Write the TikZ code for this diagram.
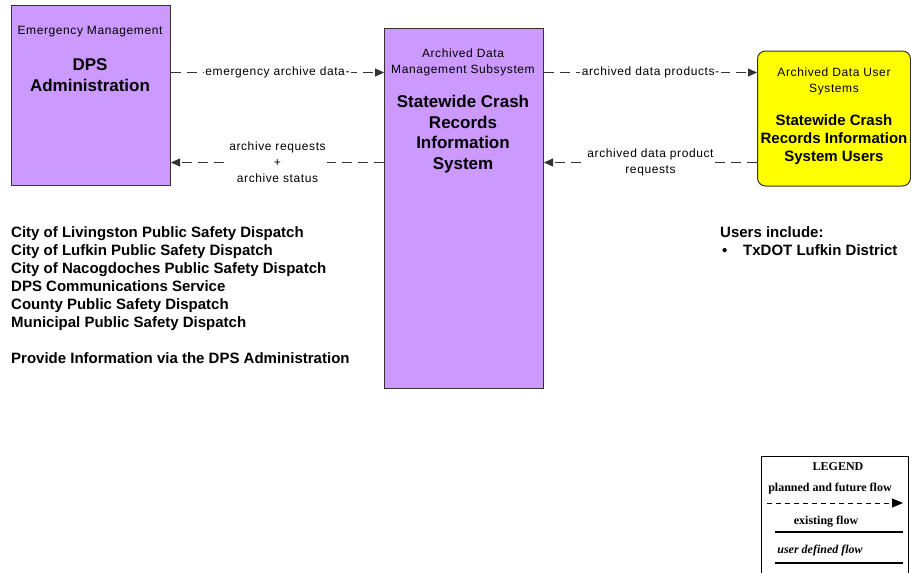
\documentclass[tikz,border=0pt]{standalone}
\usepackage{fontspec}
\setmainfont{Liberation Sans}
\newfontfamily\smf[LetterSpace=5]{Liberation Sans}
\newfontfamily\serf{Liberation Serif}
\usetikzlibrary{arrows.meta}
\definecolor{boxpurple}{HTML}{CC99FF}
\definecolor{boxyellow}{HTML}{FFFF00}
\definecolor{lineg}{HTML}{333333}
\tikzset{
  sysbox/.style={draw=lineg, line width=1pt, fill=boxpurple, anchor=north west, inner sep=0pt},
  usrbox/.style={draw=lineg, line width=1pt, fill=boxyellow, rounded corners=8pt, anchor=north west, inner sep=0pt},
  flow/.style={draw=lineg, line width=1pt, dash pattern=on 10pt off 6pt, -{Triangle[length=9pt,width=8pt]}},
  lab/.style={fill=white, inner sep=1.5pt, align=center, font=\smf\fontsize{12}{16}\selectfont},
  smalltxt/.style={align=center, inner sep=0pt, font=\smf\fontsize{12}{16}\selectfont},
  bigtxt/.style={align=center, inner sep=0pt, font=\bfseries\fontsize{17}{21}\selectfont},
  listtxt/.style={align=left, inner sep=0pt, anchor=north west, font=\bfseries\fontsize{15}{18}\selectfont},
  legtxt/.style={inner sep=0pt, font=\serf\bfseries\fontsize{12}{14}\selectfont},
  legline/.style={draw=black, line width=1.3pt}
}
\begin{document}
\begin{tikzpicture}[x=1pt,y=-1pt]
\useasboundingbox (0,0) rectangle (911,573);
\clip (0,0) rectangle (911,573);

% boxes
\node[sysbox, minimum width=159pt, minimum height=180pt] (dps) at (11,5) {};
\node[sysbox, minimum width=159pt, minimum height=360pt] (crs) at (384,28) {};
\node[usrbox, minimum width=153pt, minimum height=135pt] (usr) at (757,50.5) {};

% box texts
\node[smalltxt] (dpsc) at (90,32) {Emergency Management};
\node[bigtxt] (dpst) at (90,75) {DPS\\Administration};
\node[smalltxt] (crsc) at (463,62) {Archived Data\\Management Subsystem};
\node[bigtxt, font=\bfseries\fontsize{17}{20.5}\selectfont] (crst) at (463,134) {Statewide Crash\\Records\\Information\\System};
\node[smalltxt] (usrc) at (834,81) {Archived Data User\\Systems};
\node[bigtxt, font=\bfseries\fontsize{15}{18}\selectfont] (usrt) at (834,140) {Statewide Crash\\Records Information\\System Users};

% flows
\draw[flow] (dps.east |- 0,72.5) -- (crs.west |- 0,72.5) node[lab, midway] (f1) {emergency archive data-};
\draw[flow] (crs.west |- 0,162.5) -- (dps.east |- 0,162.5) node[lab, midway] (f2) {archive requests\\+\\archive status};
\draw[flow] (crs.east |- 0,72.5) -- (usr.west |- 0,72.5) node[lab, midway] (f3) {archived data products-};
\draw[flow] (usr.west |- 0,162.5) -- (crs.east |- 0,162.5) node[lab, midway] (f4) {archived data product\\requests};

% left list
\node[listtxt] (list) at (11,226) {City of Livingston Public Safety Dispatch\\
City of Lufkin Public Safety Dispatch\\
City of Nacogdoches Public Safety Dispatch\\
DPS Communications Service\\
County Public Safety Dispatch\\
Municipal Public Safety Dispatch\\[18pt]
Provide Information via the DPS Administration};

% users include
\node[listtxt] (users) at (720,226) {Users include:\\
\makebox[23pt][l]{\hspace{2pt}\textbullet}TxDOT Lufkin District};

% legend
\node[draw=black, line width=1pt, anchor=north west, minimum width=147pt, minimum height=130pt, inner sep=0pt] (leg) at (760.5,456) {};
\node[legtxt] (legh) at (838,466.5) {LEGEND};
\node[legtxt] (leg1) at (830,488.5) {planned and future flow};
\coordinate (la1) at (767,503);
\coordinate (lb1) at (903,503);
\draw[legline, line width=1pt, dash pattern=on 5pt off 4pt, -{Triangle[length=11pt,width=9pt]}] (la1) -- (lb1);
\node[legtxt] (leg2) at (826,521.5) {existing flow};
\coordinate (la2) at (775,532);
\coordinate (lb2) at (903,532);
\draw[legline] (la2) -- (lb2);
\node[legtxt, font=\serf\bfseries\itshape\fontsize{12}{14}\selectfont] (leg3) at (820,551) {user defined flow};
\coordinate (la3) at (775,563);
\coordinate (lb3) at (903,563);
\draw[legline] (la3) -- (lb3);
\end{tikzpicture}
\end{document}
